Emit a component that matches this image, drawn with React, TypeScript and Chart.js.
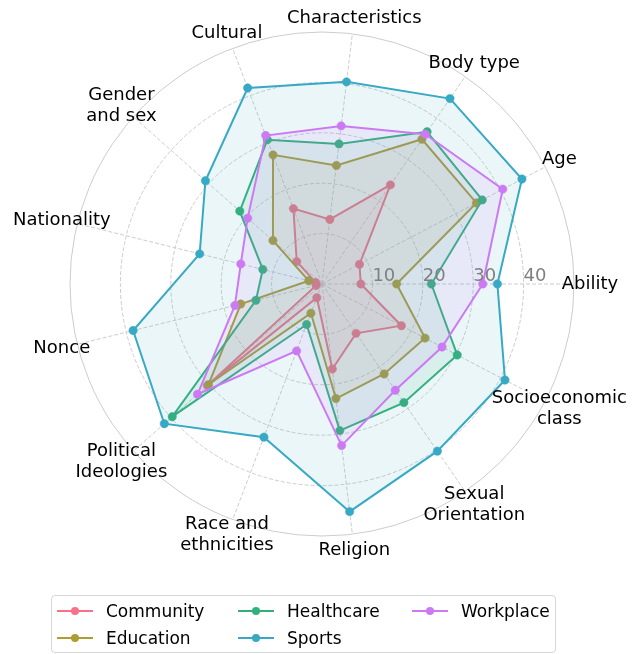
import React, { useEffect, useRef } from "react";
import { Chart, registerables } from "chart.js";

Chart.register(...registerables);

// Categories in the reference's counter-clockwise order, starting at the right (east)
const categories: (string | string[])[] = [
  "Ability",
  "Age",
  "Body type",
  "Characteristics",
  "Cultural",
  ["Gender", "and sex"],
  "Nationality",
  "Nonce",
  ["Political", "Ideologies"],
  ["Race and", "ethnicities"],
  "Religion",
  ["Sexual", "Orientation"],
  ["Socioeconomic", "class"],
];

const community = [7.7, 8.4, 23.9, 12.9, 16.0, 6.7, 1.3, 1.2, 30.4, 2.9, 17.0, 11.9, 17.8];
const education = [14.8, 34.6, 34.9, 23.7, 27.4, 13.0, 2.7, 16.6, 30.1, 6.2, 22.9, 21.7, 23.1];
const healthcare = [21.7, 35.9, 36.7, 28.0, 30.6, 21.8, 12.1, 13.5, 39.7, 8.6, 29.3, 28.6, 30.3];
const sports = [34.8, 44.8, 44.7, 40.4, 41.6, 30.9, 25.0, 38.6, 41.8, 32.5, 45.5, 40.3, 41.0];
const workplace = [31.9, 40.5, 36.1, 31.6, 31.5, 19.7, 16.6, 17.8, 33.0, 14.2, 32.3, 25.6, 26.9];

const seriesNames = ["Community", "Education", "Healthcare", "Sports", "Workplace"];
const seriesValues = [community, education, healthcare, sports, workplace];
const seriesColors = ["#f77189", "#ae9d31", "#33b07a", "#38a9c5", "#cc7af4"];

const radialTickLabels = [10, 20, 30, 40];
const radialMax = 50;

// Chart.js goes clockwise; the reference goes counter-clockwise.
function toClockwise<T>(a: T[]): T[] {
  return [a[0], ...a.slice(1).reverse()];
}

function hexToRgba(hex: string, alpha: number) {
  const n = parseInt(hex.slice(1), 16);
  return `rgba(${(n >> 16) & 255}, ${(n >> 8) & 255}, ${n & 255}, ${alpha})`;
}

const FONT = '"DejaVu Sans", "Noto Sans", sans-serif';

const polarTextPlugin = {
  id: "polarText",
  beforeDatasetsDraw(chart: any) {
    const s = chart.scales.r;
    const ctx = chart.ctx;
    ctx.save();
    ctx.strokeStyle = "#cccccc";
    ctx.lineWidth = 1;
    ctx.setLineDash([]);
    ctx.beginPath();
    ctx.arc(s.xCenter, s.yCenter, s.getDistanceFromCenterForValue(radialMax), 0, Math.PI * 2);
    ctx.stroke();
    ctx.restore();
  },
  afterDatasetsDraw(chart: any) {
    const s = chart.scales.r;
    const ctx = chart.ctx;
    ctx.save();
    ctx.font = `18px ${FONT}`;
    ctx.fillStyle = "#000000";
    ctx.textAlign = "center";
    ctx.textBaseline = "middle";
    (chart.data.labels as (string | string[])[]).forEach((lab, i) => {
      const p = s.getPointPosition(i, s.drawingArea + 16);
      const lines = Array.isArray(lab) ? lab : [lab];
      lines.forEach((ln, j) => {
        ctx.fillText(ln, p.x, p.y + (j - (lines.length - 1) / 2) * 21);
      });
    });
    ctx.fillStyle = "#808080";
    ctx.textAlign = "left";
    ctx.textBaseline = "alphabetic";
    radialTickLabels.forEach((v) => {
      const p = s.getPointPosition(0, s.getDistanceFromCenterForValue(v));
      ctx.fillText(String(v), p.x, p.y - 3);
    });
    ctx.restore();
  },
};

export default function App() {
  const canvasRef = useRef<HTMLCanvasElement | null>(null);

  useEffect(() => {
    if (!canvasRef.current) return;
    const chart = new Chart(canvasRef.current, {
      type: "radar",
      data: {
        labels: toClockwise(categories),
        datasets: seriesNames.map((name, i) => ({
          label: name,
          data: toClockwise(seriesValues[i]),
          borderColor: seriesColors[i],
          backgroundColor: hexToRgba(seriesColors[i], 0.1),
          pointBackgroundColor: seriesColors[i],
          pointBorderColor: seriesColors[i],
          pointBorderWidth: 0.5,
          pointRadius: 4.2,
          borderWidth: 2,
          fill: true,
          order: seriesNames.length - 1 - i,
        })),
      },
      options: {
        responsive: false,
        animation: false,
        layout: { padding: { left: 70, right: 62, top: 32, bottom: 118 } },
        plugins: {
          legend: { display: false },
          tooltip: { enabled: false },
        },
        elements: { line: { tension: 0 } },
        scales: {
          r: {
            min: 0,
            max: radialMax,
            startAngle: 90,
            ticks: { display: false, stepSize: 10 },
            pointLabels: { display: false },
            grid: {
              circular: true,
              lineWidth: 1,
              color: (c: any) => (c.tick && c.tick.value >= radialMax ? "rgba(0,0,0,0)" : "#cccccc"),
            },
            border: { dash: [4, 2] },
            angleLines: { color: "#cccccc", lineWidth: 1, borderDash: [4, 2] },
          },
        },
      },
      plugins: [polarTextPlugin],
    } as any);
    return () => chart.destroy();
  }, []);

  const colX = [5, 186, 360];
  const rowY = [15, 42];

  return (
    <div style={{ position: "fixed", left: 0, top: 0, width: 636, height: 654, background: "#fff" }}>
      <canvas ref={canvasRef} width={636} height={654} style={{ display: "block" }} />
      <div
        style={{
          position: "absolute",
          left: 51,
          top: 595,
          width: 505,
          height: 58,
          boxSizing: "border-box",
          border: "1px solid #d6d6d6",
          borderRadius: 4,
          background: "rgba(255,255,255,0.8)",
        }}
      >
        {seriesNames.map((name, i) => {
          const col = Math.floor(i / 2);
          const row = i % 2;
          return (
            <div
              key={name}
              style={{
                position: "absolute",
                left: colX[col],
                top: rowY[row] - 12,
                height: 24,
                display: "flex",
                alignItems: "center",
                whiteSpace: "nowrap",
              }}
            >
              <div style={{ position: "relative", width: 36, height: 2, background: seriesColors[i] }}>
                <div
                  style={{
                    position: "absolute",
                    left: 14,
                    top: -3,
                    width: 8,
                    height: 8,
                    borderRadius: "50%",
                    background: seriesColors[i],
                  }}
                />
              </div>
              <span style={{ marginLeft: 13, font: `17px ${FONT}`, color: "#000", lineHeight: "24px" }}>{name}</span>
            </div>
          );
        })}
      </div>
    </div>
  );
}
